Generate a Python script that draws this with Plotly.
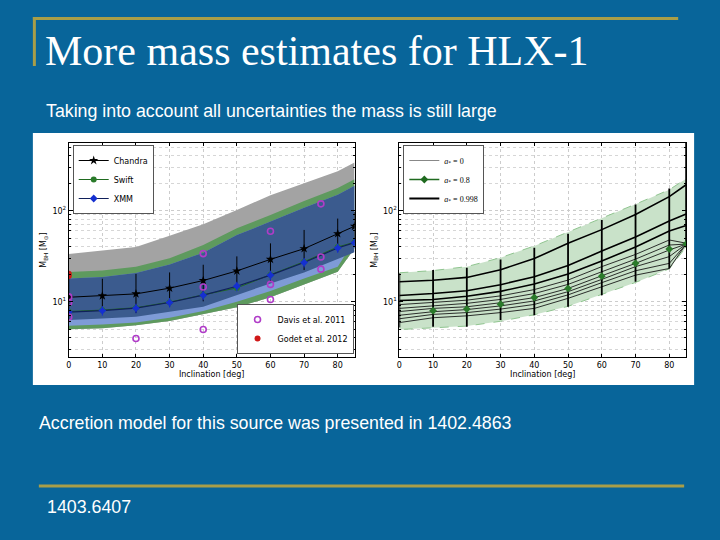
import numpy as np
import plotly.graph_objects as go
from plotly.subplots import make_subplots

W, H = 720, 540

# ---- left panel data ----
incl = [0, 10, 20, 30, 40, 50, 60, 70, 80, 85]

gray_hi = [33.5, 36.5, 40, 53, 71, 102, 148, 200, 272, 338]
green_hi = [21.2, 22, 24.3, 30, 42, 64, 90, 128, 178, 222]
blue_hi = [18, 18.7, 20.7, 25.6, 34.6, 54, 76, 108, 150, 188]
green_lo = [5.0, 5.1, 5.5, 6.15, 7.3, 8.7, 11.2, 15.5, 21.4, 38.5]
lblue_lo = [5.45, 5.63, 5.93, 6.67, 7.89, 10, 13.1, 18, 24.3, 47]
dblue_lo = [6.3, 6.56, 6.84, 7.77, 8.81, 11.8, 15.9, 21, 29.5, 35]

chandra = [11.2, 11.6, 12.2, 14.1, 17.1, 21.8, 29.2, 38.3, 56, 67.5]
chandra_hi = [18, 17.9, 20.2, 21, 25.5, 31.5, 43.8, 61.5, 82, 97]
chandra_lo = [7.0, 8.45, 7.5, 8.8, 10.1, 13.4, 16.6, 22.3, 35.5, 45.6]

xmm = [7.7, 8.0, 8.5, 9.8, 11.8, 14.8, 19.6, 27, 39, 44.6]
swift = [7.8, 8.1, 8.6, 9.9, 11.9, 14.2, 19.8, 27.5, 40, 45]

davis_x = [0, 0, 0, 20, 40, 40, 40, 60, 60, 60, 75, 75, 75]
davis_y = [11.3, 9.8, 6.8, 3.95, 33.8, 14.5, 4.95, 59.5, 15.5, 10.6, 119, 31, 22.8]
godet_x = [0, 0]
godet_y = [19.2, 20.3]

# ---- right panel data ----
band_hi = [20.8, 22, 24.3, 30.5, 41, 58, 82, 118, 170, 225]
band_lo = [4.95, 5.15, 5.4, 6.1, 7.2, 8.9, 12, 16.3, 23, 40]
spin_lines = [
    [16.6, 17.2, 18.5, 22.5, 29.8, 44, 62, 91, 143, 193],
    [11.7, 12.3, 13.2, 15.4, 18.8, 25, 36, 51.5, 77, 92],
    [10.3, 10.6, 11.5, 13.0, 15.7, 20.2, 28, 40, 60, 69],
    [9.3, 9.8, 10.4, 11.6, 13.6, 17.3, 24.3, 33.1, 47.7, 44],
    [8.45, 9.05, 9.6, 10.6, 12.3, 15.5, 21.4, 29.4, 42, 43],
    [7.8, 8.45, 8.8, 9.75, 11.1, 14.0, 19.3, 26.4, 37, 43],
    [7.1, 7.77, 8.2, 9.0, 10.2, 12.9, 17.6, 24.3, 31.3, 43],
    [6.5, 7.26, 7.6, 8.3, 9.34, 11.9, 16.2, 21.9, 26.4, 43],
    [5.9, 6.67, 7.0, 7.6, 8.45, 10.9, 14.6, 19.6, 23.2, 43],
]
bar_top = [20.5, 22.3, 23.7, 29.2, 39.2, 56, 79, 117, 176, 600]
bar_bot = [5.2, 5.3, 5.3, 6.3, 7.1, 8.8, 11.8, 16.6, 23.2, 43]
green_pts_x = [10, 20, 30, 40, 50, 60, 70, 80, 85]
green_pts_y = [7.96, 8.3, 9.4, 11.1, 14.0, 19.1, 26.4, 37.9, 43]

BG = "#08659a"
GOLD = "#a89e48"

fig = make_subplots(rows=1, cols=2)


def band(hi, lo, color, col, line=None):
    x = incl + incl[::-1]
    y = hi + lo[::-1]
    fig.add_trace(go.Scatter(x=x, y=y, fill="toself", fillcolor=color,
                             line=line or dict(width=0), mode="lines",
                             showlegend=False, hoverinfo="skip"),
                  row=1, col=col)


band(gray_hi, green_lo, "#a3a3a3", 1)
band(green_hi, green_lo, "#5e9a5e", 1)
band(blue_hi, lblue_lo, "#7e9bd6", 1)
band(blue_hi, dblue_lo, "#3b5b8e", 1)

fig.add_trace(go.Scatter(
    x=incl, y=chandra, name="Chandra", mode="lines+markers",
    line=dict(color="black", width=1),
    marker=dict(symbol="star", size=7, color="black"),
    error_y=dict(type="data", symmetric=False,
                 array=list(np.array(chandra_hi) - np.array(chandra)),
                 arrayminus=list(np.array(chandra) - np.array(chandra_lo)),
                 color="black", thickness=1, width=0),
    legend="legend"), row=1, col=1)
fig.add_trace(go.Scatter(
    x=incl, y=swift, name="Swift", mode="lines+markers",
    line=dict(color="#1f6a1f", width=1),
    marker=dict(symbol="circle", size=6, color="#2a7a2a"),
    legend="legend"), row=1, col=1)
fig.add_trace(go.Scatter(
    x=incl, y=xmm, name="XMM", mode="lines+markers",
    line=dict(color="#10205a", width=1.2),
    marker=dict(symbol="diamond", size=6, color="#1530d0"),
    error_y=dict(type="percent", value=12, color="#1530d0", thickness=1, width=0),
    legend="legend"), row=1, col=1)
fig.add_trace(go.Scatter(
    x=davis_x, y=davis_y, name="Davis et al. 2011", mode="markers",
    marker=dict(symbol="circle-open", size=6, color="#b03cc8", line=dict(width=1.6)),
    legend="legend2"), row=1, col=1)
fig.add_trace(go.Scatter(
    x=godet_x, y=godet_y, name="Godet et al. 2012", mode="markers",
    marker=dict(symbol="circle", size=6, color="#d01818"),
    legend="legend2"), row=1, col=1)

# right panel
band(band_hi, band_lo, "#c9e2c9", 2, line=dict(color="#8fc48f", width=1, dash="dash"))
for i, ys in enumerate(spin_lines):
    fig.add_trace(go.Scatter(
        x=incl, y=ys, mode="lines", showlegend=False, hoverinfo="skip",
        line=dict(color="black" if i < 3 else "#1a1a1a", width=1.6 if i < 3 else 0.9)),
        row=1, col=2)
fig.add_trace(go.Scatter(
    x=incl, y=spin_lines[0], mode="lines", showlegend=False, hoverinfo="skip",
    line=dict(color="rgba(0,0,0,0)", width=0),
    error_y=dict(type="data", symmetric=False,
                 array=list(np.array(bar_top) - np.array(spin_lines[0])),
                 arrayminus=list(np.array(spin_lines[0]) - np.array(bar_bot)),
                 color="black", thickness=1.8, width=0)), row=1, col=2)
fig.add_trace(go.Scatter(
    x=green_pts_x, y=green_pts_y, mode="markers", showlegend=False,
    marker=dict(symbol="diamond", size=6, color="#2a7a2a")), row=1, col=2)

# legend-only entries for right panel
for nm, col, wd, mk in [("<i>a</i><sub>*</sub> = 0", "#888888", 1, None),
                        ("<i>a</i><sub>*</sub> = 0.8", "#1f6a1f", 1.5, "diamond"),
                        ("<i>a</i><sub>*</sub> = 0.998", "black", 1.8, None)]:
    fig.add_trace(go.Scatter(
        x=[None], y=[None], name=nm, mode="lines+markers" if mk else "lines",
        line=dict(color=col, width=wd),
        marker=dict(symbol=mk or "circle", size=6, color=col),
        legend="legend3"), row=1, col=2)

px = lambda v: v / W
py = lambda v: 1 - v / H

yrange = [np.log10(2.47), np.log10(555)]
minor_vals = [3, 4, 5, 6, 7, 8, 9, 20, 30, 40, 50, 60, 70, 80, 90, 200, 300, 400, 500]
tickfont = dict(family="DejaVu Sans", size=8, color="black")
for k, (x0, x1) in enumerate([(66, 353), (398, 686)], start=1):
    sx = "" if k == 1 else str(k)
    fig.update_layout(**{
        "xaxis" + sx: dict(domain=[px(x0), px(x1)], range=[0, 85],
                           tickvals=[0, 10, 20, 30, 40, 50, 60, 70, 80],
                           ticks="inside", ticklen=3, tickcolor="black",
                           showline=True, linecolor="black", linewidth=1, mirror="ticks",
                           showgrid=True, gridcolor="#cccccc", griddash="dot", gridwidth=1,
                           zeroline=False, tickfont=tickfont,
                           title=dict(text="Inclination [deg]", standoff=2,
                                      font=dict(family="DejaVu Sans", size=8, color="black"))),
        "yaxis" + sx: dict(domain=[py(357), py(143)], type="log", range=yrange,
                           tickvals=[10, 100],
                           ticktext=["10<sup>1</sup>", "10<sup>2</sup>"],
                           ticks="inside", ticklen=4, tickcolor="black",
                           showline=True, linecolor="black", linewidth=1, mirror="ticks",
                           showgrid=True, gridcolor="#cccccc", griddash="dot", gridwidth=1,
                           minor=dict(tickvals=minor_vals, showgrid=True, gridcolor="#d6d6d6",
                                      griddash="dot", ticks="inside", ticklen=2,
                                      tickcolor="black"),
                           zeroline=False, tickfont=tickfont,
                           title=dict(text="M<sub>BH</sub> [M<sub>\u2299</sub>]", standoff=4,
                                      font=dict(family="DejaVu Sans", size=8, color="black"))),
    })

legfont = dict(family="DejaVu Sans", size=8, color="black")
fig.update_layout(
    width=W, height=H,
    margin=dict(l=0, r=0, t=0, b=0),
    paper_bgcolor=BG, plot_bgcolor="white",
    legend=dict(x=px(70), y=py(145), xanchor="left", yanchor="top",
                bgcolor="white", bordercolor="#555555", borderwidth=1,
                font=legfont, tracegroupgap=0, itemwidth=30),
    legend2=dict(x=px(352), y=py(354), xanchor="right", yanchor="bottom",
                 bgcolor="white", bordercolor="#555555", borderwidth=1,
                 font=legfont, itemwidth=30),
    legend3=dict(x=px(402), y=py(145), xanchor="left", yanchor="top",
                 bgcolor="white", bordercolor="#555555", borderwidth=1,
                 font=dict(family="Liberation Serif", size=8, color="black"), itemwidth=30),
    shapes=[
        dict(type="rect", xref="paper", yref="paper", x0=px(30), x1=px(694),
             y0=py(385), y1=py(133), fillcolor="white", line=dict(width=0), layer="below"),
        dict(type="line", xref="paper", yref="paper", x0=px(30), x1=px(678),
             y0=py(18.5), y1=py(18.5), line=dict(color=GOLD, width=3)),
        dict(type="line", xref="paper", yref="paper", x0=px(31.5), x1=px(31.5),
             y0=py(17), y1=py(66), line=dict(color=GOLD, width=3)),
        dict(type="line", xref="paper", yref="paper", x0=px(36), x1=px(684),
             y0=py(486), y1=py(486), line=dict(color=GOLD, width=3)),
    ],
    annotations=[
        dict(text="More mass estimates for HLX-1", x=px(40), y=py(51), xref="paper",
             yref="paper", xanchor="left", yanchor="middle", showarrow=False,
             font=dict(family="Liberation Serif", size=42, color="white")),
        dict(text="Taking into account all uncertainties the mass is still large",
             x=px(41), y=py(111), xref="paper", yref="paper", xanchor="left",
             yanchor="middle", showarrow=False,
             font=dict(family="Liberation Sans", size=17.8, color="white")),
        dict(text="Accretion model for this source was presented in 1402.4863",
             x=px(34), y=py(423), xref="paper", yref="paper", xanchor="left",
             yanchor="middle", showarrow=False,
             font=dict(family="Liberation Sans", size=17.8, color="white")),
        dict(text="1403.6407", x=px(42), y=py(507), xref="paper", yref="paper",
             xanchor="left", yanchor="middle", showarrow=False,
             font=dict(family="Liberation Sans", size=17.8, color="white")),
    ],
)

fig.write_html("out.html",
               config={"displayModeBar": False},
               post_script="document.body.style.margin='0';"
                           "document.body.style.overflow='hidden';"
                           "document.body.style.background='" + BG + "';")
